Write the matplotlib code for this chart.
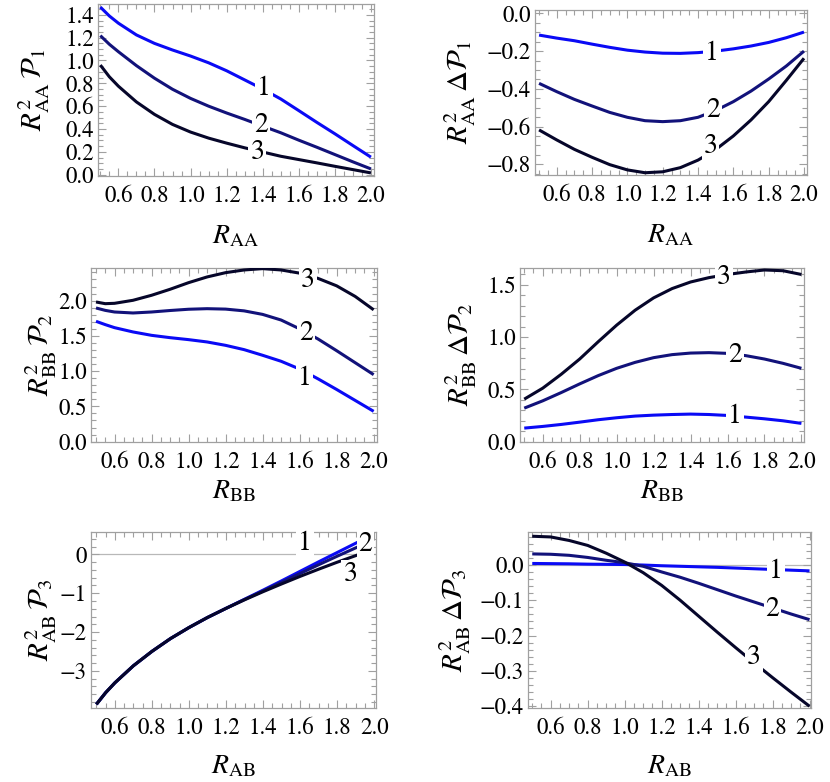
import matplotlib
matplotlib.use('Agg')
import matplotlib.pyplot as plt
from matplotlib.ticker import MultipleLocator, FuncFormatter

# --- data (three curves per panel, labelled 1, 2, 3) ---
x_aa = [0.5, 0.55, 0.6, 0.7, 0.8, 0.9, 1.0, 1.1, 1.2, 1.3, 1.4, 1.5, 1.6, 1.7, 1.8, 1.9, 2.0]
p1_c1 = [1.468, 1.390, 1.327, 1.224, 1.150, 1.092, 1.039, 0.980, 0.910, 0.830, 0.750, 0.663, 0.561, 0.458, 0.358, 0.255, 0.153]
p1_c2 = [1.218, 1.142, 1.077, 0.955, 0.845, 0.748, 0.668, 0.600, 0.540, 0.484, 0.425, 0.367, 0.302, 0.240, 0.176, 0.112, 0.050]
p1_c3 = [0.960, 0.857, 0.775, 0.637, 0.528, 0.440, 0.373, 0.320, 0.276, 0.235, 0.198, 0.161, 0.132, 0.103, 0.073, 0.044, 0.015]

x_std = [0.5, 0.6, 0.7, 0.8, 0.9, 1.0, 1.1, 1.2, 1.3, 1.4, 1.5, 1.6, 1.7, 1.8, 1.9, 2.0]
p2_c1 = [-0.115, -0.131, -0.145, -0.163, -0.180, -0.195, -0.205, -0.211, -0.212, -0.208, -0.200, -0.188, -0.173, -0.154, -0.129, -0.099]
p2_c2 = [-0.371, -0.415, -0.456, -0.491, -0.525, -0.551, -0.569, -0.574, -0.569, -0.551, -0.515, -0.468, -0.412, -0.348, -0.279, -0.200]
p2_c3 = [-0.618, -0.671, -0.721, -0.763, -0.802, -0.830, -0.845, -0.840, -0.818, -0.778, -0.722, -0.650, -0.565, -0.468, -0.355, -0.238]

x_bb = [0.5, 0.55, 0.6, 0.7, 0.8, 0.9, 1.0, 1.1, 1.2, 1.3, 1.4, 1.5, 1.6, 1.7, 1.8, 1.9, 2.0]
p3_c1 = [1.707, 1.660, 1.617, 1.556, 1.508, 1.475, 1.447, 1.414, 1.366, 1.305, 1.225, 1.140, 1.030, 0.890, 0.740, 0.585, 0.430]
p3_c2 = [1.896, 1.862, 1.839, 1.825, 1.839, 1.860, 1.878, 1.886, 1.880, 1.855, 1.805, 1.725, 1.600, 1.455, 1.290, 1.120, 0.950]
p3_c3 = [1.981, 1.957, 1.962, 2.005, 2.076, 2.161, 2.255, 2.336, 2.397, 2.435, 2.454, 2.435, 2.390, 2.315, 2.210, 2.060, 1.870]

p4_c1 = [0.130, 0.146, 0.165, 0.187, 0.210, 0.229, 0.245, 0.254, 0.260, 0.264, 0.260, 0.251, 0.235, 0.219, 0.200, 0.175]
p4_c2 = [0.321, 0.391, 0.470, 0.553, 0.632, 0.702, 0.759, 0.804, 0.833, 0.848, 0.852, 0.845, 0.823, 0.791, 0.750, 0.702]
p4_c3 = [0.407, 0.512, 0.645, 0.791, 0.956, 1.115, 1.258, 1.376, 1.465, 1.528, 1.570, 1.600, 1.624, 1.643, 1.636, 1.600]

x_ab = [0.5, 0.55, 0.6, 0.7, 0.8, 0.9, 1.0, 1.1, 1.2, 1.3, 1.4, 1.5, 1.6, 1.7, 1.8, 1.9, 1.93]
p5_c1 = [-3.865, -3.565, -3.31, -2.87, -2.50, -2.17, -1.885, -1.625, -1.39, -1.155, -0.92, -0.68, -0.435, -0.19, 0.05, 0.29, 0.36]
p5_c2 = [-3.865, -3.565, -3.31, -2.87, -2.50, -2.17, -1.885, -1.625, -1.39, -1.16, -0.94, -0.715, -0.49, -0.265, -0.045, 0.17, 0.235]
p5_c3 = [-3.865, -3.565, -3.31, -2.87, -2.50, -2.17, -1.885, -1.625, -1.39, -1.17, -0.96, -0.76, -0.565, -0.38, -0.20, -0.03, 0.02]

p6_c1 = [0.004, 0.0035, 0.003, 0.002, 0.0015, 0.001, -0.0005, -0.0025, -0.004, -0.0055, -0.007, -0.009, -0.011, -0.013, -0.015, -0.017]
p6_c2 = [0.031, 0.030, 0.027, 0.021, 0.013, 0.006, -0.004, -0.020, -0.035, -0.052, -0.070, -0.088, -0.105, -0.122, -0.139, -0.155]
p6_c3 = [0.081, 0.079, 0.069, 0.055, 0.033, 0.008, -0.022, -0.058, -0.100, -0.145, -0.190, -0.234, -0.277, -0.319, -0.360, -0.400]

curve_names = ['1', '2', '3']
colors = ['#0a0af5', '#12127a', '#06062a']

plt.rcParams['mathtext.fontset'] = 'stix'
plt.rcParams['font.family'] = ['STIXGeneral', 'DejaVu Serif']

W, H = 830, 782
fig = plt.figure(figsize=(W / 100, H / 100), dpi=100)
fig.patch.set_facecolor('white')


def make_ax(l, r, t, b):
    return fig.add_axes([l / W, 1 - b / H, (r - l) / W, (b - t) / H])


def minus(fmt):
    def f(v, pos):
        s = fmt.format(v)
        if s.startswith('-') and float(s) == 0:
            s = s[1:]
        return s.replace('-', '\u2212')
    return FuncFormatter(f)


def style(ax, xlim, ylim, ymaj, ymin, yfmt, xlab, ylab, xlab_y, ylab_x):
    ax.set_xlim(*xlim)
    ax.set_ylim(*ylim)
    ax.xaxis.set_major_locator(MultipleLocator(0.2))
    ax.xaxis.set_minor_locator(MultipleLocator(0.05))
    ax.xaxis.set_major_formatter(minus('{:.1f}'))
    ax.yaxis.set_major_locator(MultipleLocator(ymaj))
    ax.yaxis.set_minor_locator(MultipleLocator(ymin))
    ax.yaxis.set_major_formatter(minus(yfmt))
    for sp in ax.spines.values():
        sp.set_color('#a0a0a0')
        sp.set_linewidth(0.9)
    ax.tick_params(which='both', direction='in', top=True, right=True, color='#a0a0a0', width=0.8, labelsize=16.5)
    ax.tick_params(which='major', length=6)
    ax.tick_params(which='minor', length=3.5)
    ax.tick_params(axis='x', pad=7)
    ax.tick_params(axis='y', pad=3)
    ax.set_xlabel(xlab, fontsize=20, va='center')
    ax.set_ylabel(ylab, fontsize=21, va='center')
    ax.xaxis.set_label_coords(0.5, xlab_y)
    ax.yaxis.set_label_coords(ylab_x, 0.5)


def draw(ax, x, ys, label_pos):
    for y, c in zip(ys, colors):
        ax.plot(x, y, color=c, lw=2.2, solid_capstyle='butt', solid_joinstyle='round', zorder=3)
    for name, (lx, ly) in zip(curve_names, label_pos):
        ax.text(lx, ly, name, fontsize=20, ha='center', va='center', zorder=6, clip_on=False,
                bbox=dict(facecolor='white', edgecolor='none', pad=1.5))


# top left
ax1 = make_ax(98, 374, 4, 176)
draw(ax1, x_aa, [p1_c1, p1_c2, p1_c3], [(1.407, 0.754), (1.389, 0.431), (1.37, 0.197)])
style(ax1, (0.487, 2.017), (-0.012, 1.495), 0.2, 0.05, '{:.1f}',
      r'$R_{\mathrm{AA}}$', r'$R_{\mathrm{AA}}^{2}\,\mathcal{P}_{1}$', -0.35, -0.232)

# top right
ax2 = make_ax(535, 807, 10, 175)
draw(ax2, x_std, [p2_c1, p2_c2, p2_c3], [(1.479, -0.212), (1.485, -0.512), (1.47, -0.707)])
style(ax2, (0.477, 2.017), (-0.857, 0.018), 0.2, 0.05, '{:.1f}',
      r'$R_{\mathrm{AA}}$', r'$R_{\mathrm{AA}}^{2}\,\Delta\mathcal{P}_{1}$', -0.37, -0.276)

# middle left
ax3 = make_ax(91, 377, 268, 442)
draw(ax3, x_bb, [p3_c1, p3_c2, p3_c3], [(1.626, 0.894), (1.635, 1.532), (1.644, 2.288)])
style(ax3, (0.473, 2.018), (-0.005, 2.463), 0.5, 0.1, '{:.1f}',
      r'$R_{\mathrm{BB}}$', r'$R_{\mathrm{BB}}^{2}\,\mathcal{P}_{2}$', -0.287, -0.175)

# middle right
ax4 = make_ax(520, 804, 268, 442)
draw(ax4, x_std, [p4_c1, p4_c2, p4_c3], [(1.639, 0.241), (1.639, 0.829), (1.581, 1.567)])
style(ax4, (0.477, 2.014), (-0.003, 1.662), 0.5, 0.1, '{:.1f}',
      r'$R_{\mathrm{BB}}$', r'$R_{\mathrm{BB}}^{2}\,\Delta\mathcal{P}_{2}$', -0.287, -0.208)

# bottom left
ax5 = make_ax(91, 376, 532, 708)
ax5.axhline(0, color='#b8b8b8', lw=0.9, zorder=1)
draw(ax5, x_ab, [p5_c1, p5_c2, p5_c3], [(1.627, 0.29), (1.953, 0.25), (1.871, -0.52)])
style(ax5, (0.471, 2.01), (-3.96, 0.58), 1, 0.2, '{:.0f}',
      r'$R_{\mathrm{AB}}$', r'$R_{\mathrm{AB}}^{2}\,\mathcal{P}_{3}$', -0.335, -0.175)

# bottom right
ax6 = make_ax(528, 811, 532, 708)
ax6.axhline(0, color='#b8b8b8', lw=0.9, zorder=1)
draw(ax6, x_std, [p6_c1, p6_c2, p6_c3], [(1.82, -0.018), (1.80, -0.126), (1.70, -0.263)])
style(ax6, (0.477, 2.008), (-0.405, 0.093), 0.1, 0.02, '{:.1f}',
      r'$R_{\mathrm{AB}}$', r'$R_{\mathrm{AB}}^{2}\,\Delta\mathcal{P}_{3}$', -0.335, -0.258)

fig.savefig('out.png', dpi=100, facecolor='white')
